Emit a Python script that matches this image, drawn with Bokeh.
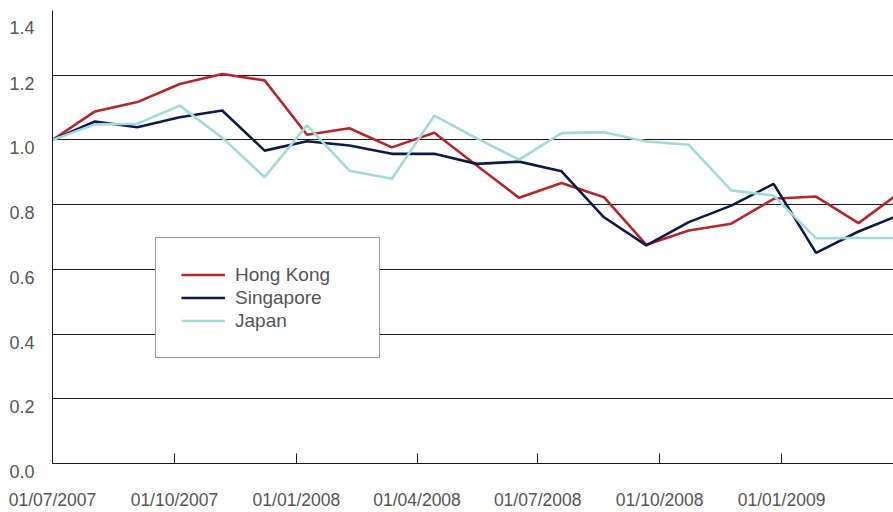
from datetime import datetime
from bokeh.plotting import figure
from bokeh.models import (Range1d, FixedTicker, PrintfTickFormatter,
                          DatetimeTickFormatter, Legend, LegendItem)
from bokeh.embed import file_html
from bokeh.resources import INLINE

# ---- data ----
dates = ["2007-07-01", "2007-08-02", "2007-09-03", "2007-10-05", "2007-11-06",
         "2007-12-08", "2008-01-09", "2008-02-10", "2008-03-13", "2008-04-14",
         "2008-05-16", "2008-06-17", "2008-07-19", "2008-08-20", "2008-09-21",
         "2008-10-23", "2008-11-24", "2008-12-26", "2009-01-27", "2009-02-28",
         "2009-04-01"]
hong_kong = [1.000, 1.088, 1.117, 1.173, 1.204, 1.184, 1.016, 1.036, 0.977, 1.022,
             0.921, 0.821, 0.867, 0.823, 0.676, 0.720, 0.741, 0.818, 0.825, 0.743,
             0.840]
singapore = [1.000, 1.057, 1.039, 1.070, 1.091, 0.967, 0.996, 0.983, 0.957, 0.957,
             0.926, 0.933, 0.903, 0.761, 0.674, 0.746, 0.797, 0.864, 0.651, 0.717,
             0.770]
japan = [1.000, 1.048, 1.050, 1.106, 1.007, 0.885, 1.045, 0.905, 0.880, 1.075,
         1.005, 0.939, 1.021, 1.024, 0.995, 0.985, 0.844, 0.828, 0.696, 0.697,
         0.697]
series_names = ["Hong Kong", "Singapore", "Japan"]
y_ticks = [0.0, 0.2, 0.4, 0.6, 0.8, 1.0, 1.2, 1.4]
y_tick_labels = ["0.0", "0.2", "0.4", "0.6", "0.8", "1.0", "1.2", "1.4"]
x_tick_dates = ["2007-07-01", "2007-10-01", "2008-01-01", "2008-04-01",
                "2008-07-01", "2008-10-01", "2009-01-01"]

# ---- styles ----
colors = ["#B3262E", "#0E1A47", "#A3DAD6"]
label_color = "#555555"
font = "Liberation Sans"

def to_dt(s):
    return datetime.strptime(s, "%Y-%m-%d")

def to_ms(dt):
    return (dt - datetime(1970, 1, 1)).total_seconds() * 1000.0

x = [to_dt(d) for d in dates]

p = figure(width=893, height=512, x_axis_type="datetime",
           x_range=Range1d(datetime(2007, 7, 1), datetime(2009, 3, 26, 10)),
           y_range=Range1d(0, 1.4),
           output_backend="svg", toolbar_location=None,
           min_border_left=52, min_border_right=0,
           min_border_top=10, min_border_bottom=49)
p.outline_line_color = None
p.background_fill_color = "white"
p.border_fill_color = "white"

# grid
p.xgrid.visible = False
p.ygrid.ticker = FixedTicker(ticks=y_ticks)
p.ygrid.grid_line_color = "#1a1a1a"
p.ygrid.grid_line_width = 1

# y axis (labels sit a little below their gridlines, as in the reference)
p.yaxis.ticker = FixedTicker(ticks=y_ticks)
p.yaxis.formatter = PrintfTickFormatter(format="%.1f")
p.yaxis.major_label_overrides = {v: "\n" + t for v, t in zip(y_ticks, y_tick_labels)}
p.yaxis.axis_line_color = "#1a1a1a"
p.yaxis.major_tick_line_color = None
p.yaxis.minor_tick_line_color = None
p.yaxis.major_label_text_font = font
p.yaxis.major_label_text_font_size = "18px"
p.yaxis.major_label_text_line_height = 0.85
p.yaxis.major_label_text_color = label_color
p.yaxis.major_label_standoff = 12

# x axis
p.xaxis.ticker = FixedTicker(ticks=[to_ms(to_dt(d)) for d in x_tick_dates])
fmt = "%d/%m/%Y"
p.xaxis.formatter = DatetimeTickFormatter(days=fmt, months=fmt, years=fmt,
                                          hours=fmt, hourmin=fmt, minutes=fmt,
                                          minsec=fmt, seconds=fmt,
                                          milliseconds=fmt, microseconds=fmt)
p.xaxis.axis_line_color = "#1a1a1a"
p.xaxis.major_tick_line_color = "#1a1a1a"
p.xaxis.major_tick_in = 10
p.xaxis.major_tick_out = 0
p.xaxis.minor_tick_line_color = None
p.xaxis.major_label_text_font = font
p.xaxis.major_label_text_font_size = "17.5px"
p.xaxis.major_label_text_color = label_color
p.xaxis.major_label_standoff = 26

renderers = []
for name, vals, c in zip(series_names, [hong_kong, singapore, japan], colors):
    r = p.line(x, vals, line_color=c, line_width=2.6)
    renderers.append(r)

legend = Legend(items=[LegendItem(label=n, renderers=[r])
                       for n, r in zip(series_names, renderers)],
                location=(103, 105))
legend.border_line_color = "#333333"
legend.border_line_width = 1
legend.background_fill_color = "white"
legend.background_fill_alpha = 1.0
legend.padding = 25
legend.spacing = 0
legend.margin = 0
legend.label_height = 23
legend.glyph_height = 23
legend.glyph_width = 44
legend.label_standoff = 10
legend.label_width = 119
legend.label_text_font = font
legend.label_text_font_size = "19px"
legend.label_text_color = label_color
p.add_layout(legend)

open("out.html", "w").write(file_html(p, INLINE))
